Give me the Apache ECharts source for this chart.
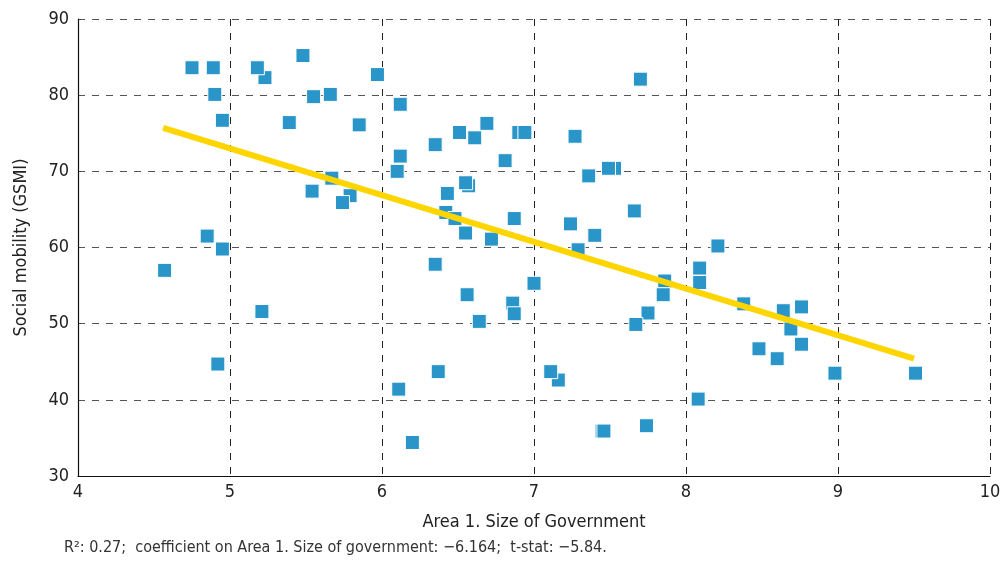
<!DOCTYPE html>
<html>
<head>
<meta charset="utf-8">
<script src="https://cdn.jsdelivr.net/npm/echarts@6/dist/echarts.min.js"></script>
<style>
html,body{margin:0;padding:0;background:#fff;}
#chart{width:1008px;height:561px;}
</style>
</head>
<body>
<div id="chart"></div>
<script>
// Data; partly hidden points listed first so they are drawn underneath
const xVals = [5.23,5.79,7.448,6.86,6.57,7.16,7.53,6.90,
  4.75,4.89,5.18,5.48,5.97,4.90,5.55,5.66,6.12,4.95,5.39,5.85,6.12,6.10,5.67,5.54,5.74,
  6.51,6.69,6.61,6.94,6.35,7.27,6.81,7.36,7.49,6.55,6.43,6.42,6.48,6.87,6.55,6.72,
  7.24,7.40,7.66,7.29,6.35,7.00,7.70,8.21,8.09,8.09,7.86,7.85,7.75,7.67,8.38,8.64,8.76,8.69,
  8.76,8.48,8.60,8.98,9.51,8.08,7.74,6.56,6.87,6.64,6.37,6.11,6.20,7.11,7.46,
  4.85,4.95,4.57,5.21,4.92];
const yVals = [82.3,66.8,35.9,52.7,68.1,42.6,70.4,75.1,
  83.6,83.6,83.6,85.2,82.7,80.1,79.8,80.1,78.8,76.7,76.4,76.1,72.0,70.0,69.1,67.4,65.9,
  75.1,76.3,74.4,75.1,73.5,74.6,71.4,69.4,70.4,68.5,67.1,64.6,63.8,63.8,61.9,61.1,
  63.1,61.6,64.8,59.7,57.8,55.3,82.1,60.2,57.3,55.4,55.6,53.8,51.4,49.9,52.6,51.7,52.2,49.3,
  47.3,46.7,45.4,43.5,43.5,40.1,36.6,53.8,51.3,50.3,43.7,41.4,34.4,43.7,35.9,
  61.5,59.8,57.0,51.6,44.7];
const trendX = [4.56, 9.50];
const trendY = [75.7, 45.4];
const xTicks = [4,5,6,7,8,9,10];
const yTicks = [30,40,50,60,70,80,90];
const xTitle = 'Area 1. Size of Government';
const yTitle = 'Social mobility (GSMI)';
const footnote = 'R²: 0.27;  coefficient on Area 1. Size of government: \u22126.164;  t-stat: \u22125.84.';

const FONT = '"Liberation Sans Narrow","DejaVu Sans Condensed","Roboto",sans-serif';
const chart = echarts.init(document.getElementById('chart'), null, {renderer:'canvas'});
const pts = xVals.map((x,i)=>[x, yVals[i]]);
chart.setOption({
  animation:false,
  backgroundColor:'#fff',
  grid:{left:78, right:18, top:19, bottom:85, show:false, containLabel:false},
  xAxis:{
    type:'value', min:xTicks[0], max:xTicks[xTicks.length-1], interval:1,
    name:xTitle, nameLocation:'middle', nameGap:37,
    nameTextStyle:{fontFamily:FONT, fontSize:18, color:'#222'},
    axisLine:{show:true, onZero:false, lineStyle:{color:'#111', width:1.2}}, axisTick:{show:false},
    axisLabel:{fontFamily:FONT, fontSize:18, color:'#222', margin:7},
    splitLine:{show:true, lineStyle:{color:'#222', type:[7,7], width:1}}
  },
  yAxis:{
    type:'value', min:yTicks[0], max:yTicks[yTicks.length-1], interval:10,
    name:yTitle, nameLocation:'middle', nameGap:48, nameRotate:90,
    nameTextStyle:{fontFamily:FONT, fontSize:18, color:'#222'},
    axisLine:{show:true, onZero:false, lineStyle:{color:'#111', width:1.2}}, axisTick:{show:false},
    axisLabel:{fontFamily:FONT, fontSize:18, color:'#222', margin:9},
    splitLine:{show:true, lineStyle:{color:'#555', type:[7,7], width:1}}
  },
  series:[
    {type:'scatter', data:pts, symbol:'rect', symbolSize:14,
     itemStyle:{color:'#2a95c9', borderColor:'#ffffff', borderWidth:1, opacity:1}, z:2},
    {type:'line', data:trendX.map((x,i)=>[x,trendY[i]]), symbol:'none',
     lineStyle:{color:'#ffd500', width:6}, z:3}
  ],
  graphic:[{type:'text', left:64, top:540,
    style:{text:footnote, fontFamily:FONT, fontSize:16, fill:'#333'}}]
});
</script>
</body>
</html>
